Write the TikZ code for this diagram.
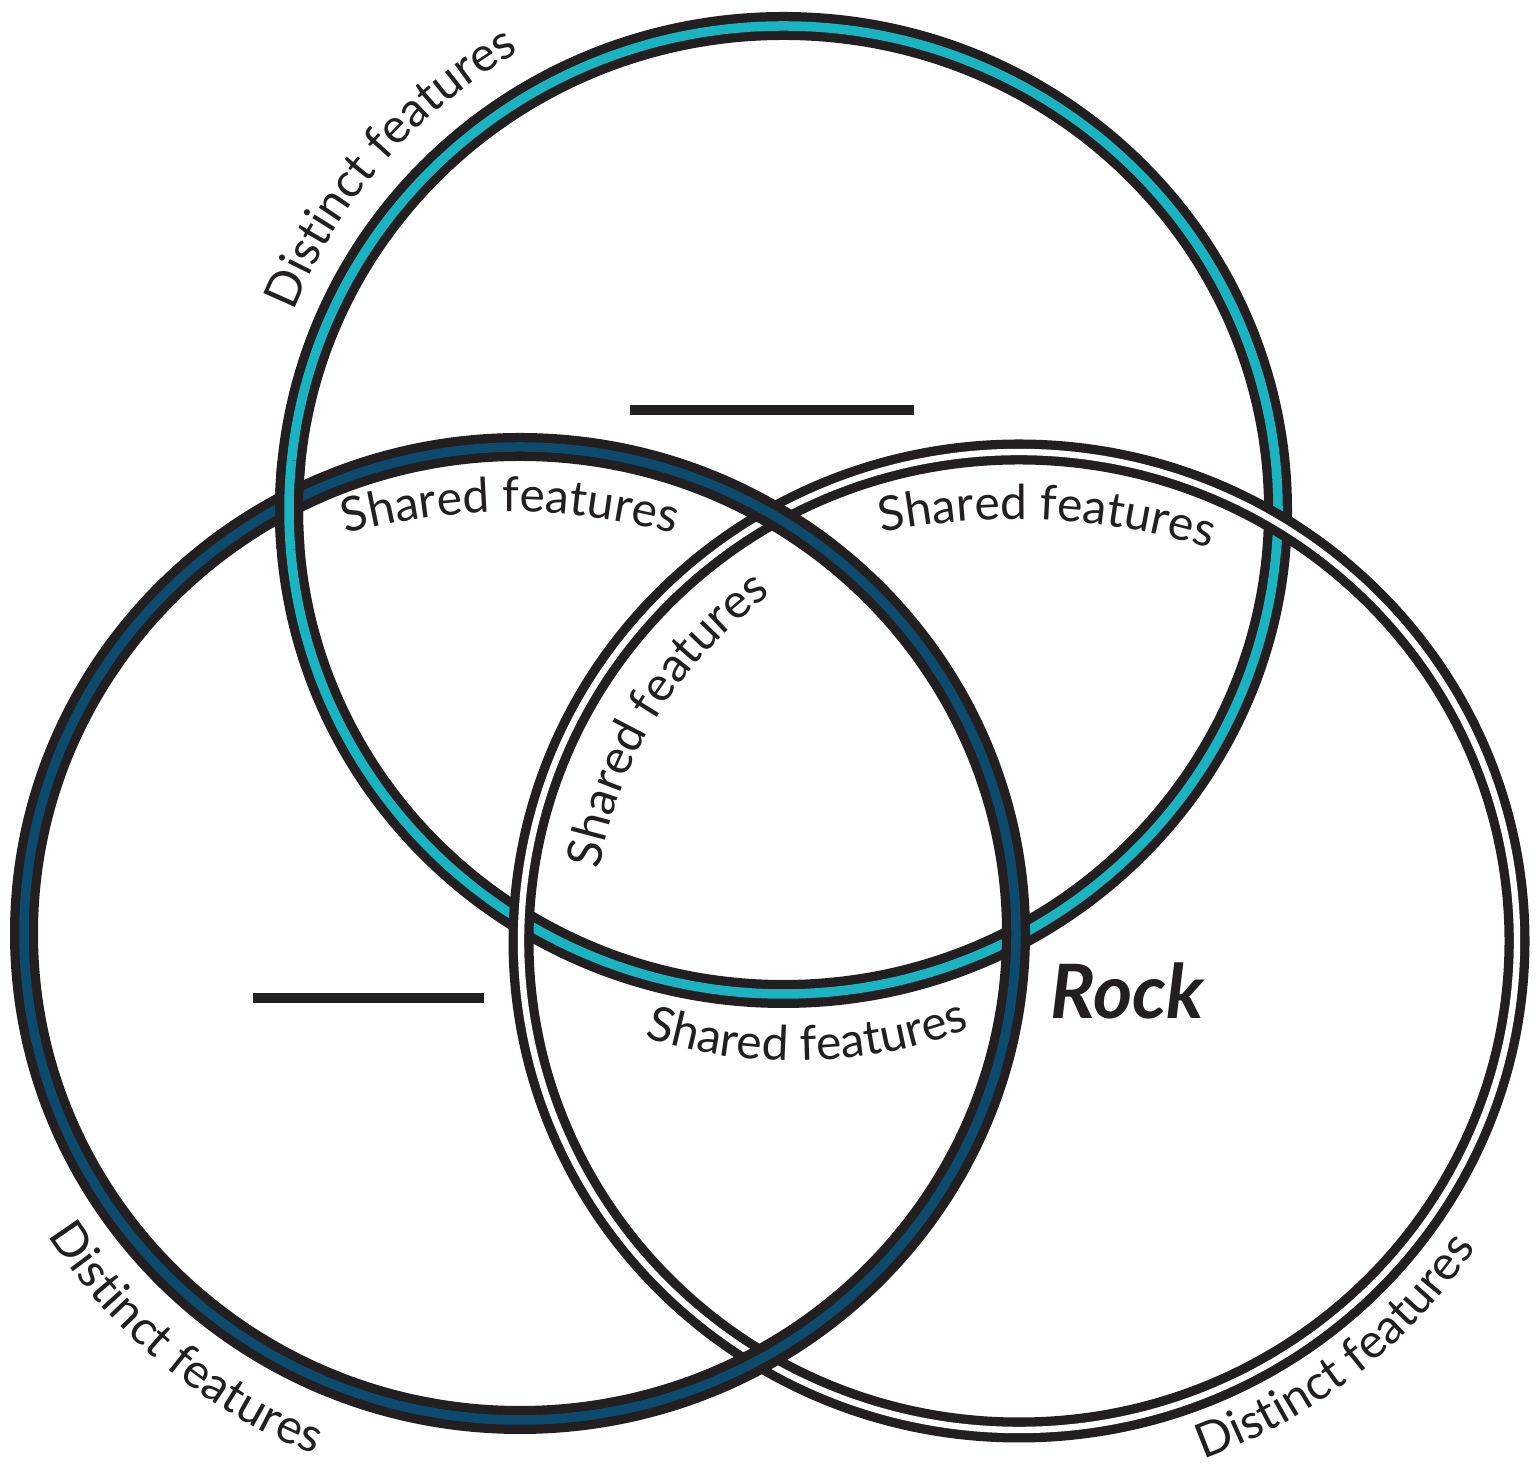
\documentclass[tikz,border=0pt]{standalone}
\usepackage{fontspec}
\setmainfont{Lato}
\usetikzlibrary{decorations.text}
\definecolor{ink}{HTML}{231F20}
\definecolor{ringcyan}{HTML}{19B3C2}
\definecolor{ringblue}{HTML}{0C4A6E}
\newcommand\lblfont{\fontsize{24}{28}\selectfont}
\begin{document}
\begin{tikzpicture}[x=0.5pt,y=0.5pt,
  outerblack/.style={draw=ink,line width=14pt},
  outerblackthin/.style={draw=ink,line width=12.5pt},
  cyanstripe/.style={draw=ringcyan,line width=4.75pt},
  bluestripe/.style={draw=ringblue,line width=4.75pt},
  whitestripe/.style={draw=white,line width=3.2pt},
  blankline/.style={draw=ink,line width=5pt},
  curvtext/.style={decorate,decoration={text along path,text align=center,text color=ink,text={|\lblfont|#1}}}
]
\useasboundingbox (0,0) rectangle (1536,1465);
\fill[white] (0,0) rectangle (1536,1465);
% top circle
\draw[outerblack] (783.5,955) ellipse[x radius=494.5,y radius=484];
\draw[cyanstripe] (783.5,955) ellipse[x radius=494.5,y radius=484];
% right circle
\draw[outerblackthin] (1019,524) ellipse[x radius=498,y radius=489];
\draw[whitestripe] (1019,524) ellipse[x radius=498,y radius=489];
% left circle
\draw[outerblack] (520,531.5) ellipse[x radius=496,y radius=486.5];
\draw[bluestripe] (520,531.5) ellipse[x radius=496,y radius=486.5];
% top ring over left ring at upper-left crossing
\begin{scope}
\clip (287,960) circle[radius=45];
\draw[outerblack] (783.5,955) ellipse[x radius=494.5,y radius=484];
\draw[cyanstripe] (783.5,955) ellipse[x radius=494.5,y radius=484];
\end{scope}
% blanks
\coordinate (b1s) at (630,1055);
\coordinate (b1e) at (914,1055);
\coordinate (b2s) at (253,467);
\coordinate (b2e) at (484,467);
\draw[blankline] (b1s) -- (b1e);
\draw[blankline] (b2s) -- (b2e);
% curved labels
\path[curvtext={Shared features},shift={(510,333)}] (125:620) arc[start angle=125,end angle=55,radius=620];
\path[curvtext={Shared features},shift={(1016,288)}] (117.3:658) arc[start angle=117.3,end angle=57.3,radius=658];
\path[curvtext={Shared features},shift={(1019,525)}] (178:425) arc[start angle=178,end angle=118,radius=425];
\path[curvtext={Shared features},shift={(795,890)}] (241.5:486) arc[start angle=241.5,end angle=301.5,radius=486];
\path[curvtext={Distinct features},shift={(783,956)}] (169:528) arc[start angle=169,end angle=109,radius=528];
\path[curvtext={Distinct features},shift={(520,531)}] (200.5:560) arc[start angle=200.5,end angle=260.5,radius=560];
\path[curvtext={Distinct features},shift={(1019,525)}] (277.8:551) arc[start angle=277.8,end angle=337.8,radius=551];
% title
\node[anchor=base west,inner sep=0pt,text=ink,font=\fontsize{37.5}{42}\selectfont\bfseries\itshape] (rock) at (1050,446) {Rock};
\end{tikzpicture}
\end{document}
